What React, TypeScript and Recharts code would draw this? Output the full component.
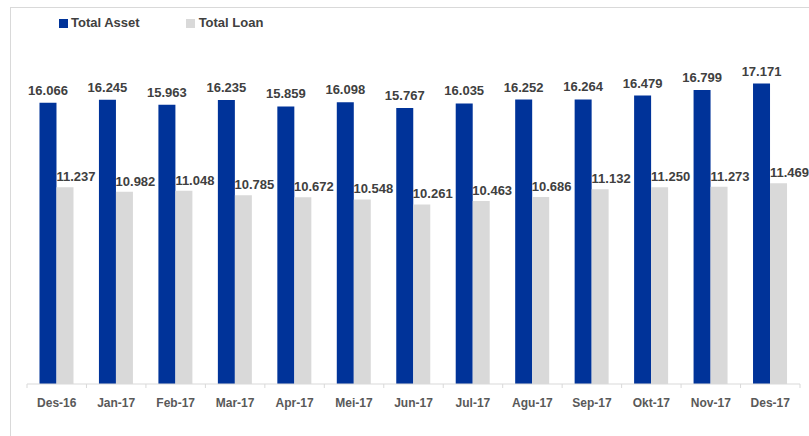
import React from "react";
import { BarChart, Bar, XAxis, YAxis, LabelList } from "recharts";

const categories = ["Des-16", "Jan-17", "Feb-17", "Mar-17", "Apr-17", "Mei-17", "Jun-17", "Jul-17", "Agu-17", "Sep-17", "Okt-17", "Nov-17", "Des-17"];
const totalAsset = [16.066, 16.245, 15.963, 16.235, 15.859, 16.098, 15.767, 16.035, 16.252, 16.264, 16.479, 16.799, 17.171];
const totalLoan = [11.237, 10.982, 11.048, 10.785, 10.672, 10.548, 10.261, 10.463, 10.686, 11.132, 11.25, 11.273, 11.469];

const data = categories.map((c, i) => ({ name: c, asset: totalAsset[i], loan: totalLoan[i] }));

const W = 809;
const H = 436;
const M = { top: 34, right: 9, left: 27, bottom: 22 };
const FONT = "'Liberation Sans', Arial, sans-serif";
const BLUE = "#003399";
const GRAY = "#d9d9d9";
const TEXT = "#404040";
const AXIS_TEXT = "#595959";
const band = (W - M.left - M.right) / categories.length;

const fmt = (v: number) => v.toFixed(3);

const AxisTick = (props: any) => {
  const { x, y, payload, index } = props;
  const half = band / 2;
  return (
    <g>
      <line x1={x - half} x2={x - half} y1={y} y2={y + 4} stroke={GRAY} strokeWidth={1} />
      {index === categories.length - 1 && (
        <line x1={x + half} x2={x + half} y1={y} y2={y + 4} stroke={GRAY} strokeWidth={1} />
      )}
      <text x={x} y={y + 23} textAnchor="middle" fontFamily={FONT} fontSize={12} fontWeight="bold" fill={AXIS_TEXT}>
        {payload.value}
      </text>
    </g>
  );
};

const AssetLabel = (props: any) => {
  const { x, y, width, value } = props;
  return (
    <text x={x + width / 2} y={y - 8} textAnchor="middle" fontFamily={FONT} fontSize={13} fontWeight="bold" fill={TEXT}>
      {fmt(value)}
    </text>
  );
};

const LoanLabel = (props: any) => {
  const { x, y, width, value } = props;
  return (
    <text x={x + width / 2 + 11} y={y - 6} textAnchor="middle" fontFamily={FONT} fontSize={13} fontWeight="bold" fill={TEXT}>
      {fmt(value)}
    </text>
  );
};

const LegendBox = () => (
  <div style={{ position: "absolute", left: 59, top: 14, display: "flex", alignItems: "center", fontFamily: FONT, fontSize: 13, fontWeight: "bold", color: TEXT, lineHeight: "18px" }}>
    <span style={{ display: "inline-block", width: 9, height: 9, background: BLUE, marginRight: 3 }} />
    <span style={{ marginRight: 46 }}>Total Asset</span>
    <span style={{ display: "inline-block", width: 9, height: 9, background: GRAY, marginRight: 4 }} />
    <span>Total Loan</span>
  </div>
);

export default function App() {
  return (
    <div style={{ position: "fixed", left: 0, top: 0, width: W, height: H, overflow: "hidden", background: "#fff" }}>
      <div style={{ position: "absolute", left: 10, top: 7, width: 900, height: 500, border: `1px solid ${GRAY}` }} />
      <div style={{ position: "absolute", left: 0, top: 0 }}>
        <BarChart width={W} height={H} data={data} margin={M} barGap={0} barCategoryGap="21%">
          <XAxis
            dataKey="name"
            axisLine={{ stroke: GRAY }}
            tickLine={false}
            tickSize={0}
            tickMargin={0}
            height={30}
            interval={0}
            tick={<AxisTick />}
          />
          <YAxis hide domain={[0, 20]} />
          <Bar dataKey="asset" name="Total Asset" fill={BLUE} isAnimationActive={false}>
            <LabelList dataKey="asset" content={<AssetLabel />} />
          </Bar>
          <Bar dataKey="loan" name="Total Loan" fill={GRAY} isAnimationActive={false}>
            <LabelList dataKey="loan" content={<LoanLabel />} />
          </Bar>
        </BarChart>
      </div>
      <LegendBox />
    </div>
  );
}
